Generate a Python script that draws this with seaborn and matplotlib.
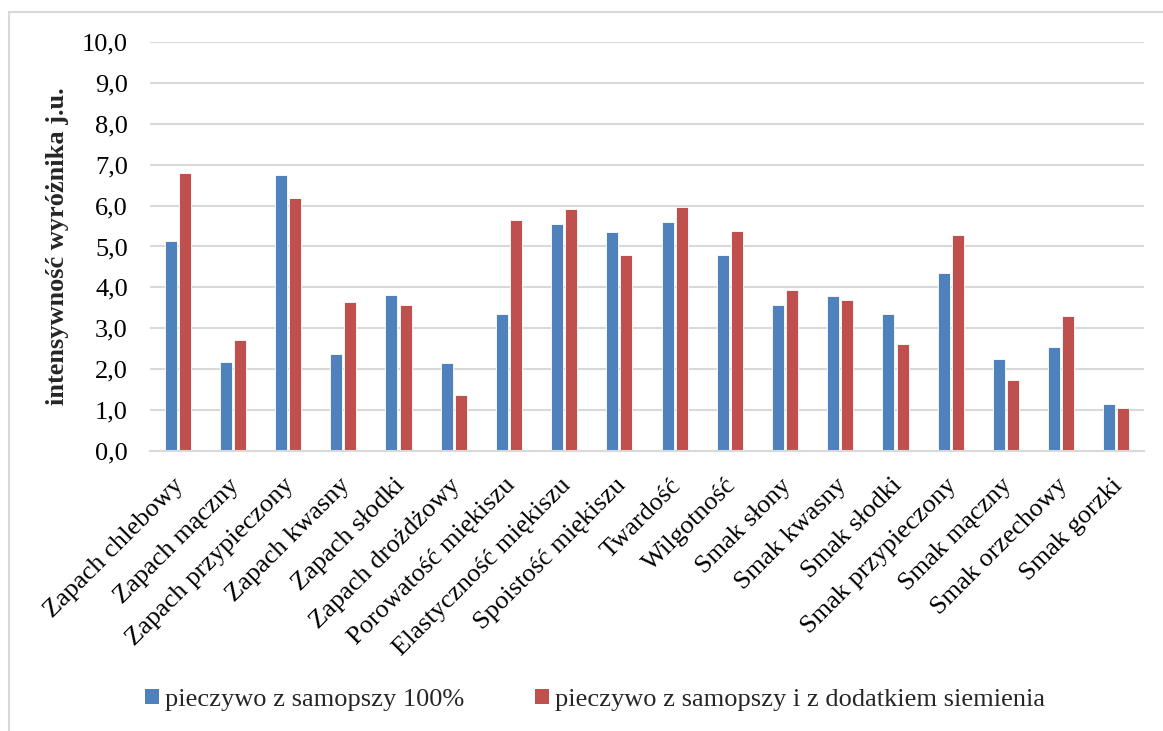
import matplotlib
matplotlib.use("Agg")
import matplotlib.pyplot as plt
import matplotlib.ticker as mticker
import matplotlib.transforms as mtransforms
from matplotlib.patches import Patch
from matplotlib.lines import Line2D
import seaborn as sns
import pandas as pd

categories = [
    "Zapach chlebowy", "Zapach mączny", "Zapach przypieczony", "Zapach kwasny",
    "Zapach słodki", "Zapach drożdżowy", "Porowatość miękiszu",
    "Elastyczność miękiszu", "Spoistość miękiszu", "Twardość", "Wilgotność",
    "Smak słony", "Smak kwasny", "Smak słodki", "Smak przypieczony",
    "Smak mączny", "Smak orzechowy", "Smak gorzki",
]
series_names = [
    "pieczywo z samopszy 100%",
    "pieczywo z samopszy i z dodatkiem siemienia",
]
values_100 = [5.14, 2.18, 6.76, 2.38, 3.82, 2.14, 3.36, 5.54, 5.35,
              5.61, 4.80, 3.58, 3.79, 3.36, 4.36, 2.26, 2.54, 1.14]
values_siemie = [6.80, 2.72, 6.19, 3.64, 3.56, 1.38, 5.65, 5.92, 4.80,
                 5.96, 5.39, 3.94, 3.69, 2.61, 5.28, 1.74, 3.29, 1.05]
colors = ["#4F81BD", "#C0504D"]

df = pd.DataFrame({
    "cecha": categories * 2,
    "seria": [series_names[0]] * len(categories) + [series_names[1]] * len(categories),
    "wartosc": values_100 + values_siemie,
})

sns.set_theme(style="white")
plt.rcParams["font.family"] = ["Liberation Serif", "DejaVu Serif"]

W, H = 1163, 731
FS = 19
fig = plt.figure(figsize=(W / 100, H / 100), dpi=100)
ax = fig.add_axes([150 / W, 1 - 451 / H, (1144 - 150) / W, (451 - 42) / H])

sns.barplot(
    data=df, x="cecha", y="wartosc", hue="seria", order=categories,
    hue_order=series_names, palette=colors, width=0.51, gap=0.15,
    saturation=1, edgecolor="white", linewidth=0.6, legend=False, ax=ax,
)

ax.set_ylim(0, 10)
ax.set_xlim(-0.5, len(categories) - 0.5)
ax.yaxis.set_major_locator(mticker.MultipleLocator(1))
ax.yaxis.set_major_formatter(
    mticker.FuncFormatter(lambda v, p: f"{v:.1f}".replace(".", ","))
)
ax.grid(axis="y", color="#D9D9D9", linewidth=1.5)
ax.set_axisbelow(True)
for s in ["top", "right", "left"]:
    ax.spines[s].set_visible(False)
ax.spines["bottom"].set_color("#D9D9D9")
ax.spines["bottom"].set_linewidth(1.5)

ax.tick_params(axis="y", labelsize=FS, length=0, pad=16, colors="black")
ax.tick_params(axis="x", labelsize=FS, length=0, pad=8, colors="black")
shift = mtransforms.ScaledTranslation(3 / 100, -20 / 100, fig.dpi_scale_trans)
for lab in ax.get_xticklabels():
    lab.set_rotation(45)
    lab.set_ha("right")
    lab.set_va("center")
    lab.set_rotation_mode("anchor")
    lab.set_transform(lab.get_transform() + shift)

ax.set_xlabel("")
ax.set_ylabel("intensywność wyróżnika j.u.", fontsize=FS, fontweight="bold",
              labelpad=9)

handles = [Patch(facecolor=c, edgecolor="none") for c in colors]
fig.legend(
    handles, series_names, loc="center", bbox_to_anchor=(595 / W, 1 - 700 / H),
    ncol=2, frameon=False, fontsize=FS, handlelength=0.53, handleheight=0.53,
    handletextpad=0.25, columnspacing=2.65, borderpad=0,
)

# chart frame
fig.add_artist(Line2D([9 / W, 1.0], [1 - 12 / H] * 2, color="#D9D9D9",
                      linewidth=1.5, transform=fig.transFigure))
fig.add_artist(Line2D([9 / W] * 2, [0.0, 1 - 12 / H], color="#D9D9D9",
                      linewidth=1.5, transform=fig.transFigure))

fig.savefig("out.png", dpi=100)
